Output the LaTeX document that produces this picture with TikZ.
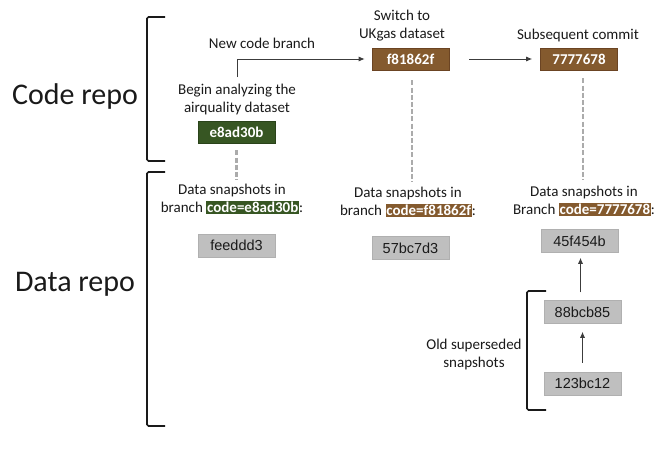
\documentclass[tikz,border=0pt]{standalone}
\usepackage{fontspec}
\setmainfont{Carlito}
\newfontfamily\arialf{Liberation Sans}
\usetikzlibrary{arrows.meta}
\definecolor{cgreen}{HTML}{375623}
\definecolor{cgreenb}{HTML}{2A431A}
\definecolor{cbrown}{HTML}{845A2E}
\definecolor{cbrownb}{HTML}{6B4423}
\definecolor{cgray}{HTML}{BFBFBF}
\definecolor{cgrayb}{HTML}{B0B0B0}
\definecolor{cdash}{HTML}{ABABAB}
\definecolor{ctext}{HTML}{1A1A1A}
\newcommand{\hlbox}[2]{{\setlength{\fboxsep}{0.8pt}\colorbox{#1}{\textcolor{white}{\bfseries #2}}}}
\tikzset{
  commitbox/.style={draw=#1b, line width=0.6pt, fill=#1, text=white, font=\fontsize{15}{18}\selectfont\bfseries, minimum width=77pt, minimum height=22pt, inner sep=0pt},
  snapbox/.style={draw=cgrayb, line width=0.5pt, fill=cgray, text=ctext, font=\arialf\fontsize{14.5}{17}\selectfont, minimum width=77pt, minimum height=23pt, inner sep=0pt},
  lbl/.style={text=ctext, font=\fontsize{15}{18}\selectfont, align=center, inner sep=0pt},
  biglbl/.style={text=ctext, font=\fontsize{30}{36}\selectfont, inner sep=0pt},
  conn/.style={draw=ctext!85, line width=0.9pt, -{Latex[length=6pt,width=5pt]}},
  dashconn/.style={draw=cdash, line width=2.6pt, dash pattern=on 5pt off 2.2pt},
  brk/.style={draw=ctext, line width=1.6pt, rounded corners=1.5pt}
}
\begin{document}
\begin{tikzpicture}[x=1pt,y=-1pt]
\useasboundingbox (0,0) rectangle (669,455);
\fill[white] (0,0) rectangle (669,455);

% side labels
\node[biglbl] (coderepo) at (75,97) {Code repo};
\node[biglbl] (datarepo) at (75,284) {Data repo};

% brackets
\draw[brk] (165,17) -- (147,17) -- (147,161) -- (165,161);
\draw[brk] (165,172) -- (147,172) -- (147,426) -- (165,426);
\draw[brk] (546,291) -- (527,291) -- (527,410) -- (546,410);

% commits
\node[commitbox=cgreen] (c1) at (236.5,132) {e8ad30b};
\node[commitbox=cbrown] (c2) at (410.5,59) {f81862f};
\node[commitbox=cbrown] (c3) at (579,59) {7777678};

\node[lbl] (c1lbl) at (237,99) {Begin analyzing the\\airquality dataset};
\node[lbl] (brlbl) at (262,43) {New code branch};
\node[lbl] (c2lbl) at (402,26) {Switch to\\UKgas dataset};
\node[lbl] (c3lbl) at (578,36) {Subsequent commit};

\coordinate (b0) at (237.5,77);
\draw[conn, shorten >=7pt] (b0) |- (c2.west);
\draw[conn, shorten <=20pt, shorten >=8pt] (c2.east) -- (c3.west);

% data labels
\node[lbl] (d1lbl) at (232,199) {Data snapshots in\\branch \hlbox{cgreen}{code=e8ad30b}:};
\node[lbl] (d2lbl) at (408,202) {Data snapshots in\\branch \hlbox{cbrown}{code=f81862f}:};
\node[lbl] (d3lbl) at (584,201) {Data snapshots in\\Branch \hlbox{cbrown}{code=7777678}:};

% dashed links
\draw[dashconn] ([yshift=-7pt]c1.south) -- ([yshift=5pt]c1.south |- d1lbl.north);
\draw[dashconn] ([xshift=1.5pt,yshift=-10pt]c2.south) -- ([xshift=1.5pt,yshift=6pt]c2.south |- d2lbl.north);
\draw[dashconn] ([xshift=4pt,yshift=-8pt]c3.south) -- ([xshift=4pt,yshift=6pt]c3.south |- d3lbl.north);

% snapshots
\node[snapbox] (s1) at (236.5,245.5) {feeddd3};
\node[snapbox] (s2) at (410.5,248) {57bc7d3};
\node[snapbox] (s3) at (579.5,241) {45f454b};
\node[snapbox] (s4) at (582.5,312) {88bcb85};
\node[snapbox] (s5) at (582.5,383.5) {123bc12};

\draw[conn, shorten <=8pt, shorten >=5pt] ([xshift=-2pt]s4.north) -- ([xshift=1pt]s3.south);
\draw[conn, shorten <=9pt, shorten >=8pt] ([xshift=0pt]s5.north) -- (s4.south);

\node[lbl] (oldlbl) at (474,354) {Old superseded\\snapshots};
\end{tikzpicture}
\end{document}
